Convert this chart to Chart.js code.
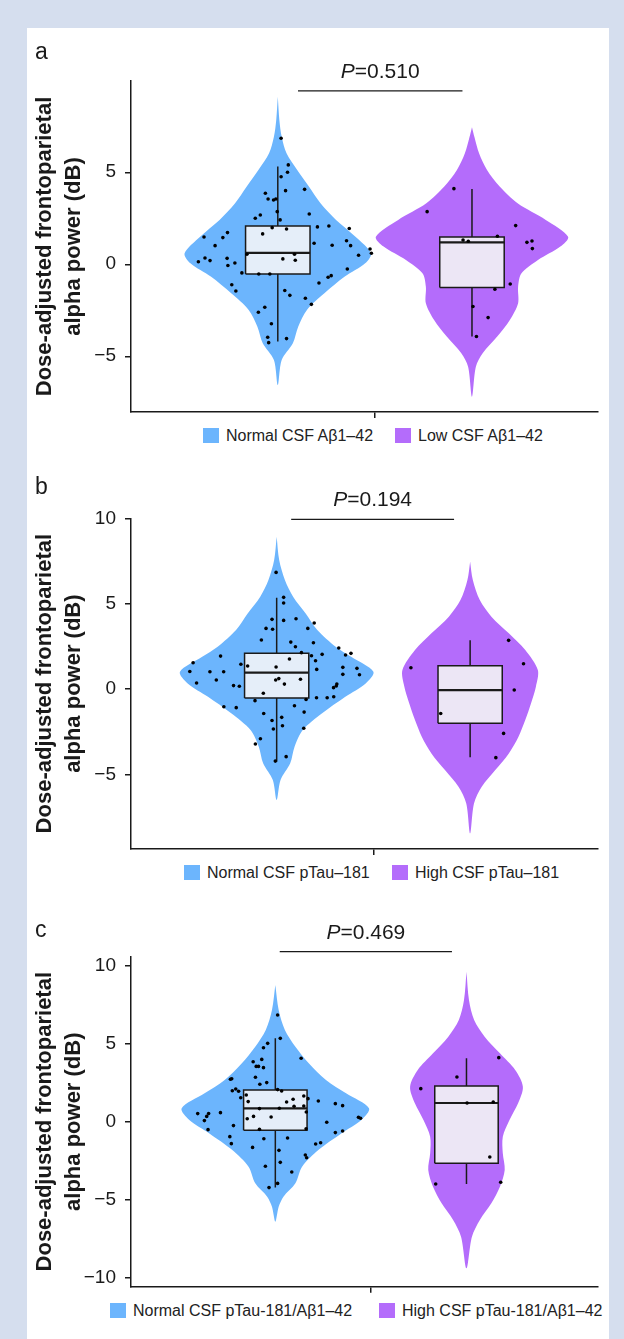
<!DOCTYPE html>
<html lang="en">
<head>
<meta charset="utf-8">
<title>Frontoparietal alpha power by CSF biomarker status</title>
<script src="https://cdn.jsdelivr.net/npm/chart.js@4.4.1/dist/chart.umd.min.js"></script>
<style>
  html, body { margin: 0; padding: 0; }
  body {
    position: relative;
    width: 624px;
    height: 1339px;
    overflow: hidden;
    background: #d5deee;
    font-family: "Liberation Sans", Arial, sans-serif;
    color: #1a1a1a;
  }
  #painel { position: absolute; left: 27px; top: 28px; width: 582px; height: 1311px; background: #fff; }
  canvas { position: absolute; left: 0; }
  .letra { position: absolute; left: 35px; font-size: 23px; line-height: 23px; }
  .legenda { position: absolute; display: flex; align-items: center; font-size: 16px; line-height: 15px; white-space: nowrap; color: #222; }
  .legenda .caixa { display: inline-block; width: 16px; height: 15px; margin-right: 7px; }
</style>
</head>
<body>
<div id="painel"></div>
<canvas id="chartA" width="624" height="420" style="top:0px"></canvas>
<canvas id="chartB" width="624" height="400" style="top:460px"></canvas>
<canvas id="chartC" width="624" height="400" style="top:900px"></canvas>

<script>
// ========== DADOS - PAINEL a (CSF Aβ1-42) ==========
const groupsA = ["Normal CSF Aβ1–42", "Low CSF Aβ1–42"];
const pValueA = "0.510";
const yTicksA = [-5, 0, 5];
// min, q1, mediana, q3, max
const boxA1 = [-4.2, -0.53, 0.62, 2.08, 5.31];
const boxA2 = [-3.93, -1.27, 1.19, 1.48, 4.09];
// densidade (0-1) em cada nivel de y
const violinYA1 = [9.1, 7.84, 6.93, 6.03, 5.12, 4.22, 3.31, 2.41, 1.5, 0.6, 0.05, -0.67, -1.58, -2.48, -3.39, -4.29, -5.2, -6.56];
const violinDA1 = [0, 0.016, 0.04, 0.09, 0.2, 0.32, 0.44, 0.6, 0.8, 0.96, 0.9, 0.69, 0.48, 0.3, 0.21, 0.155, 0.04, 0];
const violinYA2 = [7.45, 6.9, 6.03, 5.12, 4.22, 3.31, 2.41, 1.5, 0.96, 0.23, -0.49, -1.22, -2.12, -3.03, -3.93, -4.84, -5.57, -7.2];
const violinDA2 = [0, 0.026, 0.073, 0.155, 0.285, 0.47, 0.76, 0.99, 0.91, 0.68, 0.51, 0.475, 0.475, 0.39, 0.26, 0.11, 0.04, 0];
// pontos individuais: valor e deslocamento horizontal (jitter)
const dotsYA1 = [6.85, 5.40, 5.00, 4.76, 3.86, 4.00, 4.07, 3.55, 3.49, 3.55, 2.86, 2.73, 2.68, 2.50, 2.41, 1.99, 1.92, 2.03, 2.08, 1.94, 1.65, 1.72, 1.45, 1.48, 1.01, 1.14, 1.03, 1.28, 1.01, 0.83, 0.60, 0.49, 0.54, 0.54, 0.29, 0.22, 0.14, 0.34, 0.20, 0.32, -0.07, 0.07, -0.47, -0.53, -0.53, -0.26, -0.71, -0.62, -1.02, -1.11, -1.45, -1.43, -1.69, -1.85, -2.18, -2.34, -2.61, -3.23, -3.97, -4.26, -4.04];
const dotsJA1 = [0.017, 0.054, 0.050, 0.017, -0.064, 0.040, 0.138, -0.050, -0.022, -0.010, -0.003, 0.162, -0.090, -0.116, 0.012, -0.029, 0.045, 0.204, 0.263, 0.368, -0.078, -0.259, -0.283, -0.380, -0.323, 0.187, 0.280, 0.354, 0.375, 0.475, 0.482, 0.416, -0.159, 0.086, 0.026, 0.090, -0.409, -0.375, -0.349, -0.261, -0.257, -0.221, -0.185, -0.098, -0.041, 0.358, 0.259, 0.275, 0.212, -0.237, -0.216, 0.036, 0.062, 0.142, 0.173, -0.067, -0.100, -0.033, -0.052, -0.047, 0.045];
const dotsYA2 = [4.11, 2.86, 2.10, 1.52, 1.32, 1.25, 1.19, 1.26, 0.85, -1.07, -1.36, -2.30, -2.90, -3.93];
const dotsJA2 = [-0.093, -0.231, 0.225, 0.131, -0.046, -0.019, 0.283, 0.309, 0.311, 0.197, 0.118, 0.005, 0.083, 0.023];

// ========== DADOS - PAINEL b (CSF pTau-181) ==========
const groupsB = ["Normal CSF pTau–181", "High CSF pTau–181"];
const pValueB = "0.194";
const yTicksB = [-5, 0, 5, 10];
const boxB1 = [-4.26, -0.53, 0.96, 2.09, 5.35];
const boxB2 = [-4.0, -2.01, -0.06, 1.37, 2.85];
const violinYB1 = [8.92, 7.56, 6.39, 5.41, 4.43, 3.46, 2.48, 1.89, 1.01, 0.33, -0.45, -1.42, -2.4, -3.38, -4.35, -5.33, -6.5];
const violinDB1 = [0, 0.026, 0.085, 0.17, 0.3, 0.42, 0.61, 0.77, 1.0, 0.92, 0.71, 0.47, 0.27, 0.185, 0.14, 0.04, 0];
const violinYB2 = [7.46, 6.39, 5.21, 4.24, 3.26, 2.28, 1.11, 0.13, -0.84, -1.82, -2.79, -3.77, -4.75, -5.72, -6.7, -8.45];
const violinDB2 = [0, 0.028, 0.1, 0.22, 0.4, 0.57, 0.7, 0.68, 0.63, 0.57, 0.5, 0.4, 0.26, 0.12, 0.04, 0];
const dotsYB1 = [6.83, 5.37, 5.04, 4.08, 4.02, 4.12, 3.55, 3.50, 3.55, 3.87, 2.87, 2.75, 2.48, 2.71, 2.13, 1.95, 1.66, 2.03, 2.40, 1.99, 2.09, 1.93, 1.45, 1.35, 1.29, 1.76, 1.54, 1.03, 1.01, 1.01, 1.15, 1.27, 1.21, 0.84, 0.86, 0.35, 0.53, 0.20, 0.16, 0.53, 0.61, 0.29, 0.57, -0.25, 0.29, 0.18, 0.08, -0.61, -0.51, -0.51, -0.45, -0.68, -1.04, -1.09, -0.98, -1.35, -1.43, -1.66, -1.84, -2.15, -2.34, -2.30, -2.91, -3.22, -3.96, -4.22];
const dotsJB1 = [-0.003, 0.036, 0.036, -0.024, 0.036, 0.100, -0.055, -0.021, 0.161, 0.194, -0.079, 0.073, 0.097, 0.190, 0.128, 0.180, 0.201, 0.235, 0.321, 0.356, 0.384, -0.290, -0.185, -0.150, -0.003, 0.066, -0.432, -0.449, -0.345, -0.274, 0.207, 0.342, 0.415, 0.428, 0.342, -0.414, -0.312, -0.223, -0.193, -0.005, 0.011, 0.040, 0.123, -0.069, 0.311, 0.308, 0.294, 0.152, 0.206, 0.261, 0.295, -0.112, -0.273, -0.209, 0.092, 0.142, -0.067, 0.026, -0.024, 0.030, -0.017, 0.140, -0.084, -0.110, 0.049, -0.007];
const dotsYB2 = [2.85, 1.25, 1.48, -0.06, -1.43, -2.60, -4.02];
const dotsJB2 = [0.199, -0.306, 0.276, 0.228, -0.152, 0.173, 0.133];

// ========== DADOS - PAINEL c (CSF pTau-181/Aβ1-42) ==========
const groupsC = ["Normal CSF pTau-181/Aβ1–42", "High CSF pTau-181/Aβ1–42"];
const pValueC = "0.469";
const yTicksC = [-10, -5, 0, 5, 10];
const boxC1 = [-4.23, -0.55, 0.86, 2.03, 5.35];
const boxC2 = [-4.0, -2.67, 1.2, 2.29, 4.07];
const violinYC1 = [8.77, 7.17, 5.89, 4.81, 3.75, 2.68, 1.82, 0.86, 0.11, -0.75, -1.82, -2.89, -3.95, -4.81, -5.46, -6.42];
const violinDC1 = [0, 0.035, 0.1, 0.21, 0.35, 0.53, 0.74, 0.98, 0.9, 0.69, 0.45, 0.28, 0.21, 0.085, 0.035, 0];
const violinYC2 = [9.63, 7.81, 6.53, 5.46, 4.39, 3.32, 2.25, 1.18, 0.11, -0.96, -2.03, -3.1, -4.17, -5.24, -6.31, -7.38, -9.41];
const violinDC2 = [0, 0.026, 0.08, 0.19, 0.35, 0.51, 0.59, 0.54, 0.45, 0.38, 0.38, 0.4, 0.35, 0.26, 0.14, 0.057, 0];
const dotsYC1 = [6.85, 5.35, 5.03, 4.75, 4.07, 3.85, 4.00, 3.55, 3.55, 3.47, 2.72, 2.76, 2.85, 2.51, 2.40, 1.99, 2.10, 1.95, 2.06, 1.97, 1.54, 1.71, 1.29, 1.26, 1.44, 1.65, 1.48, 1.33, 1.16, 1.03, 0.99, 1.01, 0.86, 0.84, 0.58, 0.52, 0.52, 0.34, 0.07, 0.34, 0.30, 0.19, 0.62, 0.22, 0.28, -0.04, -0.25, -0.51, -0.49, -0.45, -0.70, -0.60, -0.96, -1.09, -1.05, -1.41, -1.65, -1.43, -1.35, -1.84, -2.14, -2.31, -2.61, -2.86, -3.23, -3.96, -4.23];
const dotsJC1 = [0.012, 0.026, -0.040, -0.062, 0.135, -0.116, -0.071, -0.100, -0.088, -0.062, -0.235, -0.228, -0.104, -0.045, -0.081, -0.225, -0.207, -0.192, 0.012, 0.033, -0.181, -0.152, -0.142, 0.059, 0.093, 0.149, 0.171, 0.225, 0.314, 0.352, 0.098, 0.149, 0.021, -0.083, -0.287, -0.406, -0.349, -0.359, -0.371, -0.114, -0.022, -0.147, 0.162, 0.446, 0.435, 0.269, -0.219, -0.352, -0.083, 0.161, 0.314, 0.352, -0.238, -0.060, 0.064, -0.230, -0.119, 0.211, 0.237, 0.019, 0.157, 0.164, 0.026, -0.052, 0.086, 0.012, -0.033];
const dotsYC2 = [4.11, 2.87, 2.12, 1.20, 1.26, -2.27, -4.00, -3.89];
const dotsJC2 = [0.169, -0.050, -0.239, 0.003, 0.140, 0.122, -0.161, 0.179];

const yTitle = ["Dose-adjusted frontoparietal", "alpha power (dB)"];

// ========== ESTILO E LAYOUT ==========
const FONT = "'Liberation Sans', Arial, sans-serif";
const COR_AZUL = "#6cb5fd";
const COR_ROXO = "#b46cfb";
const CAIXA_AZUL = "#e5eef9";
const CAIXA_ROXO = "#ece6f5";
const TINTA = "#1a1a1a";
const VIOLIN_HALF = 0.5;   // meia largura maxima do violino (unidades do eixo x)
const BOX_HALF = 0.166;    // meia largura da caixa

const layouts = {
  a: { canvas: "chartA", top: 0, height: 420, areaTop: 81, areaBottom: 412, yMin: -8.03, yMax: 9.96,
       xMin: 0.244, xMax: 2.649, bracket: [1.104, 1.951, 9.42], legend: [203, 395], legendTop: 428, letterTop: 40 },
  b: { canvas: "chartB", top: 460, height: 400, areaTop: 518.3, areaBottom: 849, yMin: -9.37, yMax: 10,
       xMin: 0.247, xMax: 2.661, bracket: [1.075, 1.917, 9.94], legend: [184, 392], legendTop: 865, letterTop: 475 },
  c: { canvas: "chartC", top: 900, height: 400, areaTop: 956.7, areaBottom: 1286.7, yMin: -10.59, yMax: 10.59,
       xMin: 0.245, xMax: 2.688, bracket: [1.023, 1.924, 10.91], legend: [110, 379], legendTop: 1303, letterTop: 918 },
};

// ========== CONSTRUCAO DAS FORMAS ==========
function violinPoints(center, ys, dens) {
  const right = ys.map((y, i) => ({ x: center + dens[i] * VIOLIN_HALF, y: y }));
  const left = ys.map((y, i) => ({ x: center - dens[i] * VIOLIN_HALF, y: y })).reverse();
  return right.concat(left.slice(1));
}

function boxPoints(center, s) {
  return [
    { x: center - BOX_HALF, y: s[1] },
    { x: center + BOX_HALF, y: s[1] },
    { x: center + BOX_HALF, y: s[3] },
    { x: center - BOX_HALF, y: s[3] },
    { x: center - BOX_HALF, y: s[1] },
  ];
}

function groupDatasets(center, box, vy, vd, dy, dj, cor, corCaixa) {
  const linha = { pointRadius: 0, fill: false, borderColor: TINTA, tension: 0 };
  return [
    { data: violinPoints(center, vy, vd), fill: "shape", backgroundColor: cor, borderWidth: 0,
      pointRadius: 0, tension: 0.3, order: 5 },
    { ...linha, data: [{ x: center, y: box[3] }, { x: center, y: box[4] }], borderWidth: 1.5, order: 4 },
    { ...linha, data: [{ x: center, y: box[0] }, { x: center, y: box[1] }], borderWidth: 1.5, order: 4 },
    { ...linha, data: boxPoints(center, box), fill: "shape", backgroundColor: corCaixa, borderWidth: 1.5,
      borderJoinStyle: "miter", order: 3 },
    { ...linha, data: [{ x: center - BOX_HALF, y: box[2] }, { x: center + BOX_HALF, y: box[2] }], borderWidth: 2.2, order: 2 },
    { data: dy.map((y, i) => ({ x: center + dj[i], y: y })), showLine: false, pointRadius: 1.8,
      pointBackgroundColor: "#000", pointBorderWidth: 0, order: 1 },
  ];
}

// ========== TEXTO DO VALOR P ==========
const pValuePlugin = {
  id: "pValue",
  afterDraw(chart, args, opts) {
    const { ctx, scales } = chart;
    const x0 = scales.x.getPixelForValue(opts.from);
    const x1 = scales.x.getPixelForValue(opts.to);
    const cy = scales.y.getPixelForValue(opts.level) - 19;
    const italico = "italic 21px " + FONT;
    const normal = "21px " + FONT;
    ctx.save();
    ctx.fillStyle = TINTA;
    ctx.textBaseline = "middle";
    ctx.textAlign = "left";
    ctx.font = italico;
    const wP = ctx.measureText("P").width;
    ctx.font = normal;
    const wR = ctx.measureText("=" + opts.text).width;
    const inicio = (x0 + x1) / 2 - (wP + wR) / 2;
    ctx.font = italico;
    ctx.fillText("P", inicio, cy);
    ctx.font = normal;
    ctx.fillText("=" + opts.text, inicio + wP, cy);
    ctx.restore();
  },
};

// ========== CRIAR UM PAINEL ==========
function criarPainel(letra, groups, pValue, yTicks, g1, g2) {
  const lay = layouts[letra];
  const ctx = document.getElementById(lay.canvas).getContext("2d");

  const datasets = [
    ...groupDatasets(1, g1.box, g1.vy, g1.vd, g1.dy, g1.dj, COR_AZUL, CAIXA_AZUL),
    ...groupDatasets(2, g2.box, g2.vy, g2.vd, g2.dy, g2.dj, COR_ROXO, CAIXA_ROXO),
    {
      data: [{ x: lay.bracket[0], y: lay.bracket[2] }, { x: lay.bracket[1], y: lay.bracket[2] }],
      borderColor: TINTA, borderWidth: 1.3, pointRadius: 0, fill: false, clip: false, order: 0,
    },
  ];

  new Chart(ctx, {
    type: "line",
    data: { datasets: datasets },
    plugins: [pValuePlugin],
    options: {
      responsive: false,
      animation: false,
      devicePixelRatio: 1,
      events: [],
      layout: {
        padding: { top: lay.areaTop - lay.top, right: 624 - 598, bottom: 0, left: 0 },
      },
      plugins: {
        legend: { display: false },
        tooltip: { enabled: false },
        pValue: { from: lay.bracket[0], to: lay.bracket[1], level: lay.bracket[2], text: pValue },
      },
      scales: {
        x: {
          type: "linear",
          min: lay.xMin,
          max: lay.xMax,
          afterBuildTicks: (s) => { s.ticks = [{ value: 1.5 }]; },
          afterFit: (s) => {
            s.height = lay.top + lay.height - lay.areaBottom;
            s.paddingLeft = 0;
            s.paddingRight = 0;
          },
          ticks: { display: false },
          grid: { drawOnChartArea: false, drawTicks: true, tickLength: 6, color: TINTA, lineWidth: 1.5 },
          border: { color: TINTA, width: 1.5 },
        },
        y: {
          type: "linear",
          min: lay.yMin,
          max: lay.yMax,
          afterBuildTicks: (s) => { s.ticks = yTicks.map((v) => ({ value: v })); },
          afterFit: (s) => {
            s.width = 131;
            s.paddingTop = 0;
            s.paddingBottom = 0;
          },
          ticks: {
            color: TINTA,
            padding: 9,
            font: { family: FONT, size: 19 },
            callback: (v) => String(v).replace("-", "\u2212"),
          },
          grid: { drawOnChartArea: false, drawTicks: true, tickLength: 6, color: TINTA, lineWidth: 1.5 },
          border: { color: TINTA, width: 1.5 },
          title: {
            display: true,
            text: yTitle,
            color: TINTA,
            font: { family: FONT, size: 22, weight: "bold", lineHeight: 1.32 },
            padding: { top: 30, bottom: 0 },
          },
        },
      },
    },
  });

  // letra do painel e legenda em HTML
  const letraEl = document.createElement("div");
  letraEl.className = "letra";
  letraEl.style.top = lay.letterTop + "px";
  letraEl.textContent = letra;
  document.body.appendChild(letraEl);

  [COR_AZUL, COR_ROXO].forEach((cor, i) => {
    const item = document.createElement("div");
    item.className = "legenda";
    item.style.left = lay.legend[i] + "px";
    item.style.top = lay.legendTop + "px";
    item.innerHTML = '<span class="caixa" style="background:' + cor + '"></span><span>' + groups[i] + "</span>";
    document.body.appendChild(item);
  });
}

// ========== INICIALIZACAO ==========
document.addEventListener("DOMContentLoaded", function () {
  criarPainel("a", groupsA, pValueA, yTicksA,
    { box: boxA1, vy: violinYA1, vd: violinDA1, dy: dotsYA1, dj: dotsJA1 },
    { box: boxA2, vy: violinYA2, vd: violinDA2, dy: dotsYA2, dj: dotsJA2 });
  criarPainel("b", groupsB, pValueB, yTicksB,
    { box: boxB1, vy: violinYB1, vd: violinDB1, dy: dotsYB1, dj: dotsJB1 },
    { box: boxB2, vy: violinYB2, vd: violinDB2, dy: dotsYB2, dj: dotsJB2 });
  criarPainel("c", groupsC, pValueC, yTicksC,
    { box: boxC1, vy: violinYC1, vd: violinDC1, dy: dotsYC1, dj: dotsJC1 },
    { box: boxC2, vy: violinYC2, vd: violinDC2, dy: dotsYC2, dj: dotsJC2 });
});
</script>
</body>
</html>
